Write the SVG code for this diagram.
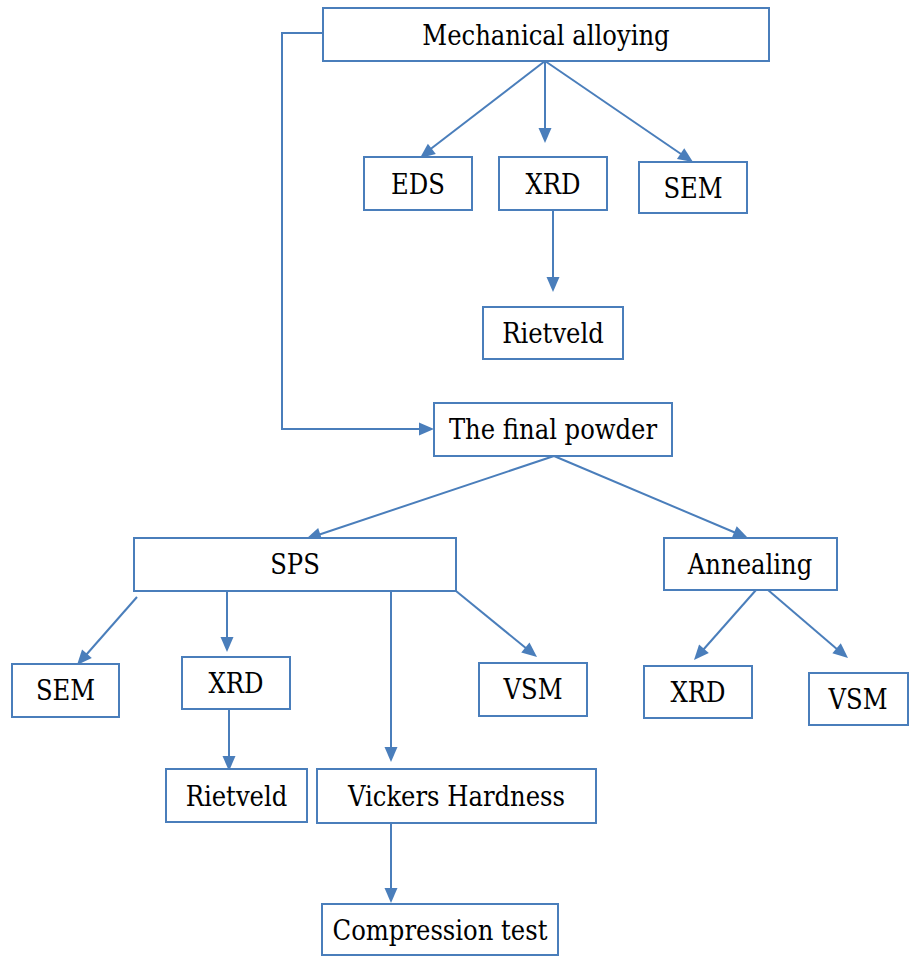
<svg xmlns="http://www.w3.org/2000/svg" width="909" height="956" viewBox="0 0 909 956">
  <style>
    .box { fill: #ffffff; stroke: #4a7ebb; stroke-width: 2; }
    .lbl { font-family: 'DejaVu Serif', serif; font-stretch: condensed; font-size: 27px; fill: #000000; text-anchor: middle; }
    .edge { fill: none; stroke: #4a7ebb; stroke-width: 2; }
    .head { fill: #4a7ebb; }
  </style>
  <defs>
    <!-- arrowhead pointing along +x, tip at origin -->
    <path id="ah" d="M0,0 L-15,-6.5 L-15,6.5 z"/>
  </defs>
  <rect width="909" height="956" fill="#ffffff"/>

  <!-- connectors -->
  <g id="connectors">
    <path class="edge" d="M545,61 L428,151"/>
    <path class="edge" d="M545,61 L545,130"/>
    <path class="edge" d="M545,61 L681,154"/>
    <path class="edge" d="M553,210 L553,279"/>
    <path class="edge" d="M323,33 H282 V429 H421"/>
    <path class="edge" d="M554,456 L318,535"/>
    <path class="edge" d="M554,456 L736,533"/>
    <path class="edge" d="M137,597 L86,655"/>
    <path class="edge" d="M227,591 L227,639"/>
    <path class="edge" d="M391,591 L391,749"/>
    <path class="edge" d="M456,591 L527,649"/>
    <path class="edge" d="M756,590 L703,650"/>
    <path class="edge" d="M768,590 L838,650"/>
    <path class="edge" d="M229,709 L229,758"/>
    <path class="edge" d="M391,823 L391,890"/>
    <use class="head" href="#ah" transform="translate(420,158) rotate(142.2)"/>
    <use class="head" href="#ah" transform="translate(545,143) rotate(90)"/>
    <use class="head" href="#ah" transform="translate(693,162) rotate(34.3)"/>
    <use class="head" href="#ah" transform="translate(553,292) rotate(90)"/>
    <use class="head" href="#ah" transform="translate(434,429)"/>
    <use class="head" href="#ah" transform="translate(306,539) rotate(161.5)"/>
    <use class="head" href="#ah" transform="translate(748,538) rotate(22.9)"/>
    <use class="head" href="#ah" transform="translate(77,665) rotate(131.4)"/>
    <use class="head" href="#ah" transform="translate(227,652) rotate(90)"/>
    <use class="head" href="#ah" transform="translate(391,762) rotate(90)"/>
    <use class="head" href="#ah" transform="translate(537,657) rotate(39.2)"/>
    <use class="head" href="#ah" transform="translate(694,660) rotate(131.5)"/>
    <use class="head" href="#ah" transform="translate(848,658) rotate(40.4)"/>
    <use class="head" href="#ah" transform="translate(229,771) rotate(90)"/>
    <use class="head" href="#ah" transform="translate(391,903) rotate(90)"/>
  </g>

  <!-- nodes -->
  <g id="mechanical-alloying">
    <rect class="box" x="323" y="8" width="446" height="53"/>
    <text class="lbl" x="546" y="45">Mechanical alloying</text>
  </g>
  <g id="eds-top">
    <rect class="box" x="364" y="157" width="108" height="53"/>
    <text class="lbl" x="418" y="194">EDS</text>
  </g>
  <g id="xrd-top">
    <rect class="box" x="499" y="157" width="108" height="53"/>
    <text class="lbl" x="553" y="194">XRD</text>
  </g>
  <g id="sem-top">
    <rect class="box" x="639" y="162" width="108" height="51"/>
    <text class="lbl" x="693" y="198">SEM</text>
  </g>
  <g id="rietveld-top">
    <rect class="box" x="483" y="307" width="140" height="52"/>
    <text class="lbl" x="553" y="343">Rietveld</text>
  </g>
  <g id="final-powder">
    <rect class="box" x="434" y="403" width="238" height="53"/>
    <text class="lbl" x="553" y="439">The final powder</text>
  </g>
  <g id="sps">
    <rect class="box" x="134" y="538" width="322" height="53"/>
    <text class="lbl" x="295" y="574">SPS</text>
  </g>
  <g id="annealing">
    <rect class="box" x="664" y="538" width="173" height="52"/>
    <text class="lbl" x="750" y="574">Annealing</text>
  </g>
  <g id="sem-sps">
    <rect class="box" x="12" y="664" width="107" height="53"/>
    <text class="lbl" x="65.5" y="700">SEM</text>
  </g>
  <g id="xrd-sps">
    <rect class="box" x="182" y="657" width="108" height="52"/>
    <text class="lbl" x="236" y="693">XRD</text>
  </g>
  <g id="vsm-sps">
    <rect class="box" x="479" y="663" width="108" height="53"/>
    <text class="lbl" x="533" y="699">VSM</text>
  </g>
  <g id="xrd-annealing">
    <rect class="box" x="644" y="666" width="108" height="52"/>
    <text class="lbl" x="698" y="702">XRD</text>
  </g>
  <g id="vsm-annealing">
    <rect class="box" x="809" y="673" width="99" height="52"/>
    <text class="lbl" x="858" y="709">VSM</text>
  </g>
  <g id="rietveld-sps">
    <rect class="box" x="166" y="769" width="141" height="53"/>
    <text class="lbl" x="236.5" y="806">Rietveld</text>
  </g>
  <g id="vickers-hardness">
    <rect class="box" x="317" y="769" width="279" height="54"/>
    <text class="lbl" x="456.5" y="806">Vickers Hardness</text>
  </g>
  <g id="compression-test">
    <rect class="box" x="322" y="904" width="236" height="51"/>
    <text class="lbl" x="440" y="940">Compression test</text>
  </g>
</svg>
